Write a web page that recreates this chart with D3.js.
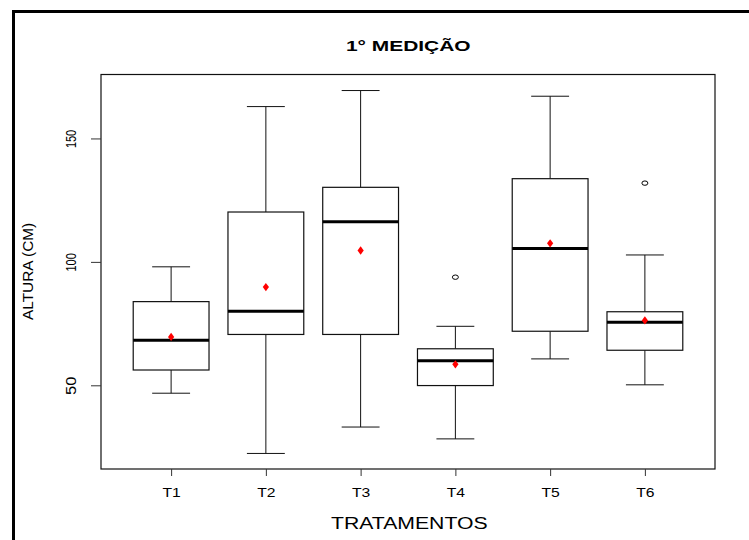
<!DOCTYPE html>
<html>
<head>
<meta charset="utf-8">
<script src="https://cdn.jsdelivr.net/npm/d3@7"></script>
<style>
  body { margin: 0; background: #fff; }
  text { font-family: "Liberation Sans", Arial, sans-serif; fill: #000; }
</style>
</head>
<body>
<svg id="chart" width="749" height="540"></svg>
<script>
/*
Values (cm) */
var treatments = ['T1', 'T2', 'T3', 'T4', 'T5', 'T6'];
var whisker_low  = [46.8, 22.4, 33.1, 28.3, 60.7, 50.2];
var box_low      = [56.2, 70.6, 70.6, 49.9, 71.9, 64.2];
var medians      = [68.3, 80.0, 116.3, 59.9, 105.4, 75.5];
var box_high     = [83.9, 120.2, 130.2, 64.8, 133.7, 79.8];
var whisker_high = [98.0, 162.9, 169.4, 73.9, 167.1, 102.8];
var means        = [69.6, 89.8, 104.6, 58.5, 107.5, 76.3];
var outliers     = [[], [], [], [93.8], [], [131.9]];
var y_ticks = [50, 100, 150];

var svg = d3.select('#chart');

/*
Plot region (R style, 4% extension of the range) */
var plot_left = 101, plot_right = 715, plot_top = 74.5, plot_bottom = 469;

var x = d3.scaleLinear().domain([0.26, 6.74]).range([plot_left, plot_right]);
var y = d3.scaleLinear().domain([16.1, 175.9]).range([plot_bottom, plot_top]);
var unit = x(1) - x(0);

// outer frame, clipped by the page on the right and bottom
svg.append('path')
  .attr('d', 'M13.5,540 L13.5,11.5 L749,11.5')
  .attr('fill', 'none').attr('stroke', '#000').attr('stroke-width', 3);

var boxes = svg.append('g');
treatments.forEach(function(t, i) {
  var cx = x(i + 1);
  var g = boxes.append('g');
  // whiskers
  g.append('line').attr('x1', cx).attr('x2', cx)
    .attr('y1', y(whisker_high[i])).attr('y2', y(box_high[i]))
    .attr('stroke', '#111');
  g.append('line').attr('x1', cx).attr('x2', cx)
    .attr('y1', y(box_low[i])).attr('y2', y(whisker_low[i]))
    .attr('stroke', '#111');
  [whisker_low[i], whisker_high[i]].forEach(function(v) {
    g.append('line')
      .attr('x1', cx - 0.2 * unit).attr('x2', cx + 0.2 * unit)
      .attr('y1', y(v)).attr('y2', y(v))
      .attr('stroke', '#111');
  });
  // box
  g.append('rect')
    .attr('x', cx - 0.4 * unit).attr('width', 0.8 * unit)
    .attr('y', y(box_high[i])).attr('height', y(box_low[i]) - y(box_high[i]))
    .attr('fill', '#fff').attr('stroke', '#111').attr('stroke-width', 1.2);
  // median
  g.append('line')
    .attr('x1', cx - 0.4 * unit).attr('x2', cx + 0.4 * unit)
    .attr('y1', y(medians[i])).attr('y2', y(medians[i]))
    .attr('stroke', '#000').attr('stroke-width', 3);
  // outliers
  outliers[i].forEach(function(v) {
    g.append('ellipse')
      .attr('cx', cx).attr('cy', y(v)).attr('rx', 3).attr('ry', 2.2)
      .attr('fill', 'none').attr('stroke', '#000').attr('stroke-width', 1);
  });
  // mean
  g.append('path')
    .attr('transform', 'translate(' + cx + ',' + y(means[i]) + ') scale(1.3,1)')
    .attr('d', d3.symbol().type(d3.symbolDiamond).size(20)())
    .attr('fill', '#f00');
});

// plot box
svg.append('rect')
  .attr('x', plot_left).attr('y', plot_top)
  .attr('width', plot_right - plot_left).attr('height', plot_bottom - plot_top)
  .attr('fill', 'none').attr('stroke', '#111').attr('stroke-width', 1.2);

// y axis
var yAxis = svg.append('g')
  .attr('transform', 'translate(' + plot_left + ',0)')
  .call(d3.axisLeft(y).tickValues(y_ticks).tickSize(10).tickSizeOuter(0).tickFormat(d3.format('d')));
yAxis.select('.domain').remove();
yAxis.selectAll('.tick line').attr('stroke', '#333');
yAxis.selectAll('.tick text')
  .attr('x', null).attr('dy', null)
  .attr('transform', 'translate(-25,0) rotate(-90)')
  .attr('text-anchor', 'middle')
  .style('font-size', '15px')
  .attr('textLength', 18.3).attr('lengthAdjust', 'spacingAndGlyphs');

// x axis
var xAxis = svg.append('g')
  .attr('transform', 'translate(0,' + plot_bottom + ')')
  .call(d3.axisBottom(x).tickValues(d3.range(1, treatments.length + 1))
    .tickSize(7).tickSizeOuter(0).tickFormat(function(d) { return treatments[d - 1]; }));
xAxis.select('.domain').remove();
xAxis.selectAll('.tick line').attr('stroke', '#333');
xAxis.selectAll('.tick text')
  .attr('y', 27.7).attr('dy', null)
  .style('font-size', '13px')
  .attr('textLength', 18.3).attr('lengthAdjust', 'spacingAndGlyphs');

// title and axis labels
svg.append('text')
  .attr('x', 408.3).attr('y', 50.7)
  .attr('text-anchor', 'middle')
  .style('font-size', '15px').style('font-weight', 'bold')
  .attr('textLength', 124.7).attr('lengthAdjust', 'spacingAndGlyphs')
  .text('1° MEDIÇÃO');

svg.append('text')
  .attr('x', 409.3).attr('y', 529.3)
  .attr('text-anchor', 'middle')
  .style('font-size', '16px')
  .attr('textLength', 156.7).attr('lengthAdjust', 'spacingAndGlyphs')
  .text('TRATAMENTOS');

svg.append('text')
  .attr('transform', 'translate(33,271.4) rotate(-90)')
  .attr('text-anchor', 'middle')
  .style('font-size', '15px')
  .attr('textLength', 97.3).attr('lengthAdjust', 'spacingAndGlyphs')
  .text('ALTURA (CM)');
</script>
</body>
</html>
